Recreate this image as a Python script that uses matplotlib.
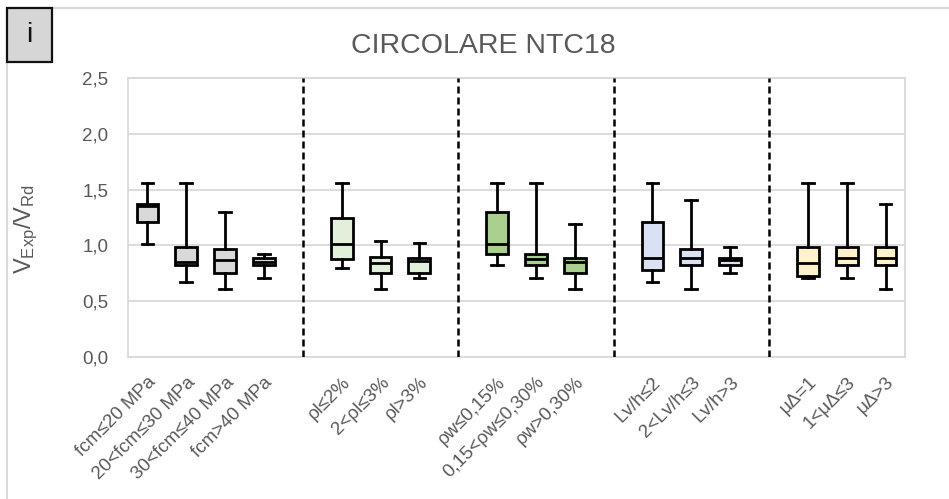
import matplotlib
matplotlib.use("Agg")
import matplotlib.pyplot as plt
from matplotlib.patches import Rectangle

plt.rcParams['font.family'] = ['Liberation Sans', 'DejaVu Sans']

# Categories, grouped by parameter
categories = ["fcm≤20 MPa", "20<fcm≤30 MPa", "30<fcm≤40 MPa", "fcm>40 MPa",
              "ρl≤2%", "2<ρl≤3%", "ρl>3%",
              "ρw≤0,15%", "0,15<ρw≤0,30%", "ρw>0,30%",
              "Lv/h≤2", "2<Lv/h≤3", "Lv/h>3",
              "μΔ=1", "1<μΔ≤3", "μΔ>3"]
group_sizes = [4, 3, 3, 3, 3]
group_colors = ["#d9d9d9", "#e2efda", "#a9d08e", "#d9e1f2", "#fff2cc"]

# Box statistics of V_Exp/V_Rd
whishi = [1.56, 1.56, 1.30, 0.92, 1.56, 1.04, 1.02, 1.56, 1.56, 1.19,
          1.56, 1.41, 0.99, 1.56, 1.56, 1.37]
q3 = [1.37, 0.99, 0.97, 0.89, 1.25, 0.90, 0.89, 1.30, 0.92, 0.89,
      1.21, 0.97, 0.89, 0.99, 0.99, 0.99]
med = [1.35, 0.85, 0.87, 0.85, 1.01, 0.845, 0.86, 1.01, 0.875, 0.855,
       0.89, 0.885, 0.865, 0.845, 0.885, 0.885]
q1 = [1.21, 0.82, 0.75, 0.82, 0.88, 0.75, 0.75, 0.92, 0.82, 0.75,
      0.78, 0.82, 0.82, 0.725, 0.82, 0.82]
whislo = [1.01, 0.67, 0.61, 0.71, 0.80, 0.61, 0.71, 0.82, 0.71, 0.61,
          0.67, 0.61, 0.755, 0.71, 0.71, 0.61]

yticks = [0.0, 0.5, 1.0, 1.5, 2.0, 2.5]
ytick_labels = ["0,0", "0,5", "1,0", "1,5", "2,0", "2,5"]

# Positions: one empty slot between groups holds the separator line
positions, colors, separators = [], [], []
slot = 0
for g, n in enumerate(group_sizes):
    for _ in range(n):
        positions.append(slot)
        colors.append(group_colors[g])
        slot += 1
    if g < len(group_sizes) - 1:
        separators.append(slot)
        slot += 1

W, H = 949, 499
fig = plt.figure(figsize=(W / 100, H / 100), dpi=100)
ax = fig.add_axes([128 / W, 1 - 357 / H, (905 - 128) / W, (357 - 78) / H])

stats = [dict(whislo=a, q1=b, med=c, q3=d, whishi=e, fliers=[])
         for a, b, c, d, e in zip(whislo, q1, med, q3, whishi)]
bp = ax.bxp(stats, positions=positions, widths=0.56, patch_artist=True,
            showfliers=False, capwidths=0.3,
            boxprops=dict(linewidth=2.0, edgecolor="black"),
            medianprops=dict(color="black", linewidth=2.0),
            whiskerprops=dict(color="black", linewidth=2.0),
            capprops=dict(color="black", linewidth=2.0))
for patch, c in zip(bp["boxes"], colors):
    patch.set_facecolor(c)

for s in separators:
    ax.axvline(s, color="black", linewidth=1.8, linestyle=(0, (2.8, 1.6)), zorder=3)

ax.set_xlim(-0.5, slot - 0.5)
ax.set_ylim(0, 2.5)
ax.set_yticks(yticks)
ax.set_yticklabels(ytick_labels, fontsize=13.5, color="#595959")
ax.yaxis.grid(True, color="#d9d9d9", linewidth=1.3)
ax.set_axisbelow(True)
for sp in ax.spines.values():
    sp.set_color("#d9d9d9")
    sp.set_linewidth(1.3)
ax.tick_params(axis="both", length=0)
ax.tick_params(axis="y", pad=14)

ax.set_xticks(positions)
ax.set_xticklabels(categories, rotation=45, ha="right", rotation_mode="anchor",
                   fontsize=13.5, color="#595959")
ax.tick_params(axis="x", pad=12)

ax.set_ylabel(r"$\mathregular{V_{Exp}/V_{Rd}}$", fontsize=17, color="#595959")
ax.yaxis.set_label_coords(-0.113, 0.46)

fig.text(483.5 / W, 1 - 53 / H, "CIRCOLARE NTC18", fontsize=20.5, color="#595959",
         ha="center", va="baseline")

# Outer chart frame
fig.add_artist(Rectangle((7 / W, -0.1), 1.2, 1.1 - 8 / H, transform=fig.transFigure,
                         facecolor="none", edgecolor="#d9d9d9", linewidth=1.5))
# Panel label
fig.add_artist(Rectangle((7 / W, 1 - 62 / H), 45 / W, 54 / H, transform=fig.transFigure,
                         facecolor="#d6d6d6", edgecolor="#111111", linewidth=1.6))
fig.text(29.5 / W, 1 - 35 / H, "i", fontsize=20, color="#111111", ha="center", va="center")

fig.savefig("out.png", dpi=100)
